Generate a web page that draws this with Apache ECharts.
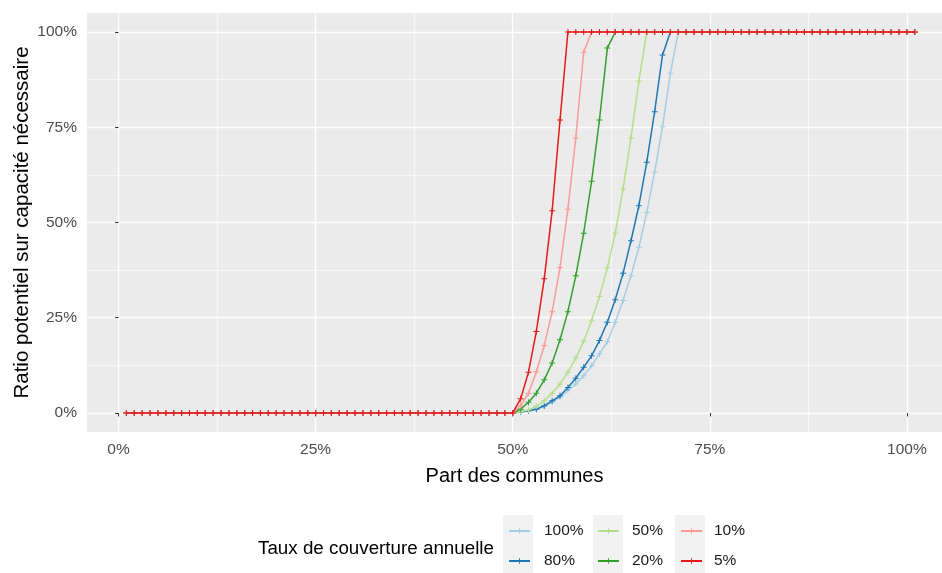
<!DOCTYPE html>
<html><head><meta charset="utf-8">
<script src="https://cdn.jsdelivr.net/npm/echarts@6/dist/echarts.min.js"></script>
<style>html,body{margin:0;padding:0;background:#fff}#c{width:942px;height:573px}</style>
</head><body><div id="c"></div>
<script>
// Part des communes (%)
const xs = [1,2,3,4,5,6,7,8,9,10,11,12,13,14,15,16,17,18,19,20,
  21,22,23,24,25,26,27,28,29,30,31,32,33,34,35,36,37,38,39,40,
  41,42,43,44,45,46,47,48,49,50,51,52,53,54,55,56,57,58,59,60,
  61,62,63,64,65,66,67,68,69,70,71,72,73,74,75,76,77,78,79,80,
  81,82,83,84,85,86,87,88,89,90,91,92,93,94,95,96,97,98,99,100,101];

const seriesNames = ['100%','80%','50%','20%','10%','5%'];

// Ratio potentiel sur capacité nécessaire (%)
const s100 = [0,0,0,0,0,0,0,0,0,0, 0,0,0,0,0,0,0,0,0,0, 0,0,0,0,0,0,0,0,0,0, 0,0,0,0,0,0,0,0,0,0, 0,0,0,0,0,0,0,0,0,0,
  0.2,0.5,1.0,1.7,2.8,4.1,5.9,7.6,9.8,12.4,15.5,18.7,23.8,29.5,36.0,43.5,52.6,63.2,75.1,89.2,
  100,100,100,100,100,100,100,100,100,100, 100,100,100,100,100,100,100,100,100,100, 100,100,100,100,100,100,100,100,100,100, 100];
const s80 = [0,0,0,0,0,0,0,0,0,0, 0,0,0,0,0,0,0,0,0,0, 0,0,0,0,0,0,0,0,0,0, 0,0,0,0,0,0,0,0,0,0, 0,0,0,0,0,0,0,0,0,0,
  0.3,0.6,1.0,1.9,3.2,4.5,6.7,9.1,12.0,15.0,19.0,23.8,29.7,36.7,45.2,54.4,65.8,79.1,94.0,
  100,100,100,100,100,100,100,100,100,100, 100,100,100,100,100,100,100,100,100,100, 100,100,100,100,100,100,100,100,100,100, 100,100];
const s50 = [0,0,0,0,0,0,0,0,0,0, 0,0,0,0,0,0,0,0,0,0, 0,0,0,0,0,0,0,0,0,0, 0,0,0,0,0,0,0,0,0,0, 0,0,0,0,0,0,0,0,0,0,
  0.3,0.8,1.8,3.2,5.2,7.6,10.7,14.4,18.8,24.2,30.6,38.1,47.2,58.8,72.2,87.1,
  100,100,100,100,100,100,100,100,100,100, 100,100,100,100,100,100,100,100,100,100, 100,100,100,100,100,100,100,100,100,100, 100,100,100,100,100];
const s20 = [0,0,0,0,0,0,0,0,0,0, 0,0,0,0,0,0,0,0,0,0, 0,0,0,0,0,0,0,0,0,0, 0,0,0,0,0,0,0,0,0,0, 0,0,0,0,0,0,0,0,0,0,
  1.0,2.8,5.2,8.7,13.1,19.2,26.6,36.0,47.2,60.8,76.9,95.8,
  100,100,100,100,100,100,100,100,100,100, 100,100,100,100,100,100,100,100,100,100, 100,100,100,100,100,100,100,100,100,100, 100,100,100,100,100,100,100,100,100];
const s10 = [0,0,0,0,0,0,0,0,0,0, 0,0,0,0,0,0,0,0,0,0, 0,0,0,0,0,0,0,0,0,0, 0,0,0,0,0,0,0,0,0,0, 0,0,0,0,0,0,0,0,0,0,
  1.9,5.2,10.8,17.7,26.6,38.2,53.5,72.2,94.7,
  100,100,100,100,100,100,100,100,100,100, 100,100,100,100,100,100,100,100,100,100, 100,100,100,100,100,100,100,100,100,100, 100,100,100,100,100,100,100,100,100,100, 100,100];
const s5 = [0,0,0,0,0,0,0,0,0,0, 0,0,0,0,0,0,0,0,0,0, 0,0,0,0,0,0,0,0,0,0, 0,0,0,0,0,0,0,0,0,0, 0,0,0,0,0,0,0,0,0,0,
  3.7,10.7,21.4,35.2,53.1,76.9,
  100,100,100,100,100,100,100,100,100,100, 100,100,100,100,100,100,100,100,100,100, 100,100,100,100,100,100,100,100,100,100, 100,100,100,100,100,100,100,100,100,100, 100,100,100,100,100];

const xMajorTicks = [0,25,50,75,100];
const xMinorTicks = [12.5,37.5,62.5,87.5];
const yMajorTicks = [0,25,50,75,100];
const yMinorTicks = [12.5,37.5,62.5,87.5];

const colors = ['#A6CEE3','#1F78B4','#B2DF8A','#33A02C','#FB9A99','#E31A1C'];
const allSeries = [s100,s80,s50,s20,s10,s5];
const FONT = 'Liberation Sans, Arial, sans-serif';
const PLUS = 'path://M5,0H7V5H12V7H7V12H5V7H0V5H5Z';

const chart = echarts.init(document.getElementById('c'), null, {renderer:'canvas'});

const series = allSeries.map((s, k) => ({
  name: seriesNames[k],
  type: 'line',
  xAxisIndex: 0, yAxisIndex: 0,
  data: xs.map((x, i) => [x, s[i]]),
  symbol: PLUS,
  symbolSize: 6,
  showAllSymbol: true,
  z: 3 + k,
  color: colors[k],
  lineStyle: {width: 1.5, color: colors[k]},
  itemStyle: {color: colors[k]},
  emphasis: {disabled: true},
  silent: true,
  animation: false
}));

function legendCol(names, left, pad) {
  return {
    data: names, orient: 'vertical', left: left, top: 522, padding: 0,
    itemWidth: 21, itemHeight: 7, itemGap: 12, selectedMode: false,
    textStyle: {fontFamily: FONT, fontSize: 15.5, color: '#1A1A1A', padding: [0,0,0,pad], lineHeight: 18}
  };
}

chart.setOption({
  animation: false,
  textStyle: {fontFamily: FONT},
  grid: {left: 87, top: 13, right: 0, height: 419, show: true, backgroundColor: '#EBEBEB', borderWidth: 0, containLabel: false, outerBoundsMode: 'none'},
  xAxis: [{
    type: 'value', min: -4, max: 104.45, position: 'bottom',
    axisLine: {show: false},
    axisTick: {show: true, length: 3.5, lineStyle: {color: '#333333', width: 1}, customValues: xMajorTicks},
    axisLabel: {customValues: xMajorTicks, formatter: v => v + '%', color: '#4D4D4D', fontSize: 15.5, margin: 10, fontFamily: FONT},
    splitLine: {show: true, lineStyle: {color: '#FFFFFF', width: 1.3}},
    name: 'Part des communes', nameLocation: 'middle', nameGap: 34, nameMoveOverlap: false,
    nameTextStyle: {color: '#000000', fontSize: 20, fontFamily: FONT, align: 'center'}
  }, {
    type: 'value', min: -4, max: 104.45, position: 'bottom',
    axisLine: {show: false},
    axisTick: {show: false, customValues: xMinorTicks},
    axisLabel: {show: false, customValues: xMinorTicks},
    splitLine: {show: true, lineStyle: {color: '#FFFFFF', width: 0.6}}
  }],
  yAxis: [{
    type: 'value', min: -5, max: 105, position: 'left',
    axisLine: {show: false},
    axisTick: {show: true, length: 3.5, lineStyle: {color: '#333333', width: 1}, customValues: yMajorTicks},
    axisLabel: {customValues: yMajorTicks, formatter: v => v + '%', color: '#4D4D4D', fontSize: 15.5, margin: 10, fontFamily: FONT},
    splitLine: {show: true, lineStyle: {color: '#FFFFFF', width: 1.3}},
    name: 'Ratio potentiel sur capacité nécessaire', nameLocation: 'middle', nameGap: 54, nameRotate: 90, nameMoveOverlap: false,
    nameTextStyle: {color: '#000000', fontSize: 20.5, fontFamily: FONT}
  }, {
    type: 'value', min: -5, max: 105, position: 'left',
    axisLine: {show: false},
    axisTick: {show: false, customValues: yMinorTicks},
    axisLabel: {show: false, customValues: yMinorTicks},
    splitLine: {show: true, lineStyle: {color: '#FFFFFF', width: 0.6}}
  }],
  legend: [
    legendCol([seriesNames[0], seriesNames[1]], 508, 9),
    legendCol([seriesNames[2], seriesNames[3]], 597, 8),
    legendCol([seriesNames[4], seriesNames[5]], 680, 7)
  ],
  graphic: [
    {type: 'rect', left: 503, top: 515, shape: {width: 30, height: 60}, style: {fill: '#F2F2F2'}, z: -1, silent: true},
    {type: 'rect', left: 593, top: 515, shape: {width: 30, height: 60}, style: {fill: '#F2F2F2'}, z: -1, silent: true},
    {type: 'rect', left: 675, top: 515, shape: {width: 30, height: 60}, style: {fill: '#F2F2F2'}, z: -1, silent: true},
    {type: 'text', left: 258, top: 539, style: {text: 'Taux de couverture annuelle', fontSize: 18.8, fontFamily: FONT, fill: '#000000'}, silent: true}
  ],
  series: series
});
</script>
</body></html>
